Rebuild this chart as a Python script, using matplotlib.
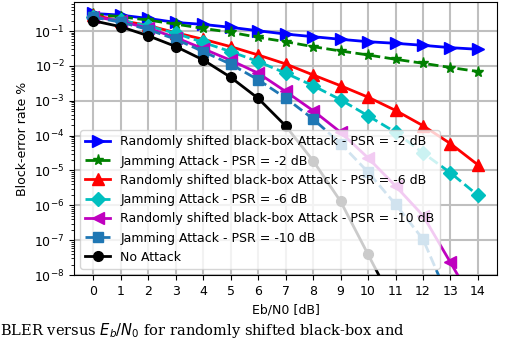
import numpy as np
import matplotlib
matplotlib.use('Agg')
import matplotlib.pyplot as plt

plt.rcParams['font.size'] = 9

ebn0 = np.arange(0, 15)

# block-error rates (one array per curve)
rand_2 = [0.32, 0.286, 0.23, 0.177, 0.155, 0.128, 0.102, 0.082, 0.069, 0.058,
          0.0495, 0.0445, 0.039, 0.0334, 0.030]
jam_2 = [0.306, 0.257, 0.206, 0.158, 0.119, 0.092, 0.066, 0.0495, 0.0357, 0.0268,
         0.0206, 0.0155, 0.0119, 0.0090, 0.0069]
rand_6 = [0.28, 0.2, 0.145, 0.0895, 0.058, 0.0357, 0.0206, 0.0114, 0.0055, 0.0027,
          1.27e-3, 5.3e-4, 1.93e-4, 5.9e-5, 1.45e-5]
jam_6 = [0.246, 0.206, 0.139, 0.086, 0.047, 0.0257, 0.0133, 0.0062, 0.0027, 1.07e-3,
         3.7e-4, 1.25e-4, 3.2e-5, 8.6e-6, 1.93e-6]
rand_10 = [0.26, 0.19, 0.12, 0.065, 0.031, 0.0145, 0.0062, 0.00185, 5.2e-4, 1.25e-4,
           2.3e-5, 3.6e-6, 5.1e-7, 2.3e-8, 1.0e-9]
jam_10 = [0.25, 0.18, 0.11, 0.058, 0.0257, 0.0112, 0.004, 0.0012, 3.0e-4, 5.9e-5,
          9e-6, 1.07e-6, 1.07e-7, 1.6e-9, 1e-11]
no_att = [0.197, 0.133, 0.073, 0.036, 0.0148, 0.0047, 0.00117, 1.9e-4, 1.9e-5, 1.3e-6,
          3.9e-8, 1.2e-9, 3e-11, 1e-12, 1e-13]

fig = plt.figure(figsize=(5.3, 3.4), dpi=100)
ax = fig.add_axes([0.14, 0.191, 0.798, 0.803])

ax.semilogy(ebn0, rand_2, '>-b', label='Randomly shifted black-box Attack - PSR = -2 dB', linewidth=2, markersize=8)
ax.semilogy(ebn0, jam_2, '*--g', label='Jamming Attack - PSR = -2 dB', linewidth=2, markersize=8)
ax.semilogy(ebn0, rand_6, '^-r', label='Randomly shifted black-box Attack - PSR = -6 dB', linewidth=2, markersize=8)
ax.semilogy(ebn0, jam_6, 'D--c', label='Jamming Attack - PSR = -6 dB', linewidth=2, markersize=7)
ax.semilogy(ebn0, rand_10, '<-m', label='Randomly shifted black-box Attack - PSR = -10 dB', linewidth=2, markersize=8)
ax.semilogy(ebn0, jam_10, 's--', color='tab:blue', label='Jamming Attack - PSR = -10 dB', linewidth=2, markersize=7)
ax.semilogy(ebn0, no_att, 'o-k', label='No Attack', linewidth=2, markersize=7)

ax.set_xlim(-0.7, 14.7)
ax.set_ylim(1e-8, 0.68)
ax.set_xticks(ebn0)
ax.grid(True, color='0.75', linewidth=1.5)
ax.set_xlabel('Eb/N0 [dB]')
ax.set_ylabel('Block-error rate %')
ax.legend(loc='lower left')

# caption line under the figure in the reference (cut off there)
fig.text(0.0, 0.0, r'BLER versus $E_b/N_0$ for randomly shifted black-box and',
         family='DejaVu Serif', fontsize=10.5, ha='left', va='bottom')

fig.savefig('out.png', dpi=100)
